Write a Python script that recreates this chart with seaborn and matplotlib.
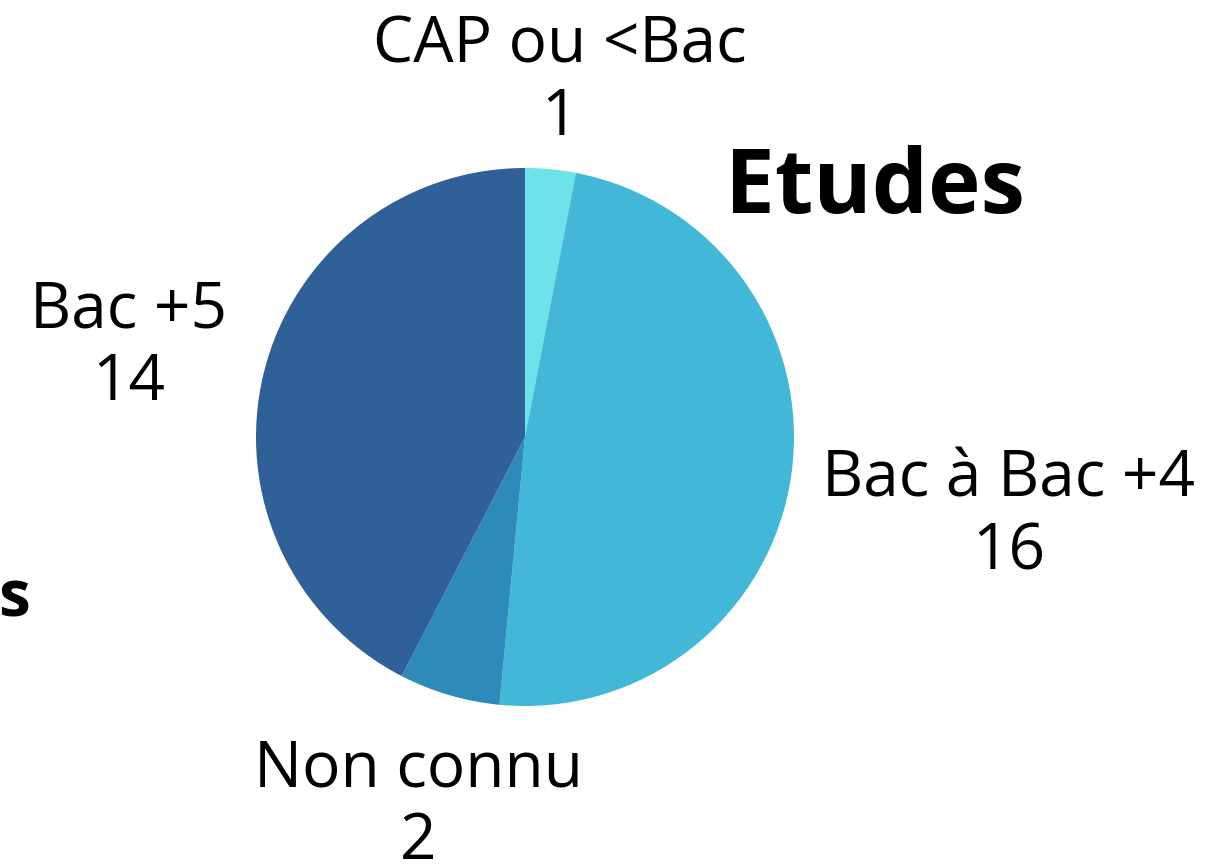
import matplotlib
matplotlib.use("Agg")
from matplotlib import pyplot as plt
import seaborn as sns

# données
categories = ["CAP ou <Bac", "Bac à Bac +4", "Non connu", "Bac +5"]
valeurs = [1, 16, 2, 14]
couleurs = ["#6BE3E8", "#43B7D7", "#2E8AB8", "#2F6098"]

sns.set_theme(style="white")
plt.rcParams['font.family'] = ['Open Sans', 'DejaVu Sans']

W, H = 1211, 868
fig = plt.figure(figsize=(W / 100, H / 100), dpi=100)
ax = fig.add_axes([0, 0, 1, 1])

ax.pie(valeurs, colors=couleurs, startangle=90, counterclock=False,
       center=(525, H - 437), radius=269,
       wedgeprops=dict(linewidth=0))

# le pie remet les limites, on les fixe après
ax.set_xlim(0, W)
ax.set_ylim(0, H)
ax.set_aspect('equal')
ax.axis('off')

# positions des étiquettes (pixels)
pos = [(560, 82), (1009, 516), (418, 806), (129, 347)]
for cat, v, (x, y) in zip(categories, valeurs, pos):
    ax.text(x, H - y, f"{cat}\n{v}", ha='center', va='center',
            fontsize=46, color='black', linespacing=1.18)

ax.text(875, H - 190, "Etudes", ha='center', va='center',
        fontsize=64, fontweight='bold', color='black')
ax.text(14, H - 600, "s", ha='center', va='center',
        fontsize=46, fontweight='bold', color='black')

fig.savefig("out.png", dpi=100)
